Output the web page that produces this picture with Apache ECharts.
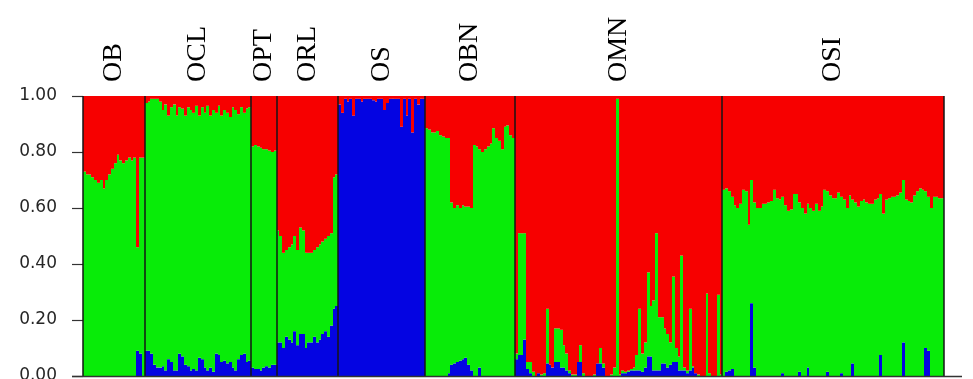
<!DOCTYPE html>
<html>
<head>
<meta charset="utf-8">
<script src="https://cdn.jsdelivr.net/npm/echarts@6/dist/echarts.min.js"></script>
<style>
  html, body { margin: 0; padding: 0; background: #fff; }
  #chart { width: 973px; height: 379px; }
</style>
</head>
<body>
<div id="chart"></div>
<script>
// Population names, in plot order
const populations = ['OB', 'OCL', 'OPT', 'ORL', 'OS', 'OBN', 'OMN', 'OSI'];

// Membership coefficients per individual (K = 3): blue cluster and green cluster.
// The red cluster takes the remainder of each bar.
const obBlue  = [0,0,0,0,0,0,0,0,0,0,0,0,0,0,0,0,0,0,0,0.09,0.08,0];
const obGreen = [0.73,0.72,0.72,0.71,0.70,0.69,0.70,0.67,0.70,0.72,0.74,0.76,0.79,0.77,0.76,0.77,0.78,0.77,0.78,0.37,0.70,0.78];

const oclBlue  = [0.09,0.09,0.08,0.04,0.03,0.03,0.035,0.02,0.06,0.05,0.02,0.02,0.08,0.07,0.04,0.035,0.02,0.025,0.02,0.065,0.06,0.03,0.02,0.03,0.015,0.08,0.075,0.05,0.055,0.045,0.05,0.03,0.02,0.06,0.075,0.08,0.05,0.055];
const oclGreen = [0.885,0.89,0.91,0.95,0.96,0.95,0.915,0.95,0.87,0.91,0.95,0.91,0.88,0.885,0.89,0.925,0.93,0.915,0.945,0.865,0.90,0.91,0.945,0.90,0.935,0.86,0.89,0.88,0.895,0.895,0.875,0.93,0.93,0.875,0.885,0.86,0.905,0.905];

const optBlue  = [0.03,0.025,0.025,0.02,0.03,0.035,0.03,0.04,0.04];
const optGreen = [0.79,0.80,0.795,0.795,0.78,0.775,0.775,0.76,0.765];

const orlBlue  = [0.12,0.12,0.10,0.14,0.13,0.12,0.16,0.11,0.15,0.15,0.10,0.12,0.12,0.14,0.12,0.13,0.15,0.16,0.14,0.18,0.24,0.25];
const orlGreen = [0.40,0.38,0.34,0.31,0.33,0.35,0.34,0.34,0.38,0.37,0.34,0.32,0.32,0.31,0.34,0.34,0.33,0.33,0.36,0.33,0.47,0.47];

const osBlue  = [0.97,0.94,0.99,0.98,0.99,0.93,0.99,0.99,0.98,0.99,0.99,0.99,0.985,0.98,0.99,0.99,0.95,0.975,0.99,0.99,0.99,0.99,0.89,0.99,0.93,0.99,0.87,0.99,0.97,0.99,0.99];
const osGreen = [0,0,0,0,0,0,0,0,0,0,0,0,0,0,0,0,0,0,0,0,0,0,0,0,0,0,0,0,0,0,0];

const obnBlue  = [0,0,0,0,0,0,0,0,0.01,0.04,0.045,0.05,0.055,0.06,0.065,0.04,0.02,0,0,0.03,0,0,0,0,0,0,0,0,0,0,0,0];
const obnGreen = [0.885,0.88,0.87,0.87,0.875,0.86,0.855,0.85,0.84,0.58,0.555,0.56,0.545,0.55,0.54,0.565,0.58,0.825,0.82,0.78,0.80,0.81,0.82,0.83,0.885,0.85,0.84,0.81,0.89,0.895,0.86,0.85];

const omnBlue  = [0.06,0.075,0.075,0.13,0.025,0.01,0,0,0.01,0,0,0.045,0.04,0.03,0.05,0.05,0.03,0.03,0.02,0.01,0,0,0.05,0.05,0,0,0,0,0,0.045,0.045,0.03,0,0,0,0,0,0,0.01,0.01,0.015,0.02,0.02,0.02,0.02,0.015,0.03,0.07,0.07,0.02,0.02,0.02,0.045,0.045,0.03,0.04,0.05,0.05,0.02,0.02,0.02,0.01,0.02,0.03,0.01,0,0,0,0,0,0,0,0,0];
const omnGreen = [0.02,0.435,0.435,0.38,0.025,0.04,0.015,0,0,0.005,0.01,0.195,0,0,0.12,0.12,0.135,0.08,0.06,0.01,0.005,0.005,0,0.06,0.01,0,0,0,0.005,0,0.055,0.015,0,0,0.005,0.03,0.99,0.005,0.01,0.005,0.005,0.005,0.01,0.055,0.22,0.065,0.09,0.30,0.18,0.25,0.49,0.19,0.165,0.125,0.12,0.08,0.305,0.05,0.05,0.41,0.01,0.01,0.22,0.005,0,0.005,0,0,0.295,0.01,0,0,0.29,0.005];

const osiBlue  = [0,0.015,0.02,0.025,0,0,0,0,0,0,0.26,0.03,0,0,0,0,0,0,0,0,0,0.01,0,0,0,0,0,0.015,0,0,0.03,0,0,0,0,0,0,0.015,0,0,0,0,0.01,0,0,0,0.045,0,0,0,0,0,0,0,0,0,0.075,0,0,0,0,0,0,0,0.12,0,0,0,0,0,0,0,0.10,0.09,0,0,0,0,0];
const osiGreen = [0.665,0.655,0.64,0.615,0.61,0.60,0.615,0.665,0.66,0.54,0.44,0.59,0.60,0.60,0.615,0.615,0.62,0.625,0.665,0.635,0.63,0.63,0.61,0.59,0.595,0.65,0.65,0.605,0.60,0.58,0.585,0.60,0.59,0.615,0.59,0.605,0.665,0.645,0.645,0.635,0.635,0.655,0.63,0.63,0.60,0.645,0.585,0.62,0.605,0.625,0.63,0.62,0.615,0.615,0.63,0.635,0.575,0.58,0.63,0.635,0.64,0.64,0.645,0.655,0.58,0.63,0.625,0.62,0.645,0.66,0.67,0.665,0.56,0.55,0.60,0.64,0.64,0.635,0.635];

const blueByPop  = [obBlue, oclBlue, optBlue, orlBlue, osBlue, obnBlue, omnBlue, osiBlue];
const greenByPop = [obGreen, oclGreen, optGreen, orlGreen, osGreen, obnGreen, omnGreen, osiGreen];

const COLORS = { red: '#f70000', green: '#08ec08', blue: '#0404e2' };

// One row per individual: [index, blue, green, red]
const individuals = [];
const memberships = [];
const popRanges = [];
populations.forEach((pop, p) => {
  const start = individuals.length;
  blueByPop[p].forEach((b, k) => {
    const g = greenByPop[p][k];
    const r = Math.max(0, +(1 - b - g).toFixed(3));
    memberships.push([individuals.length, b, g, r]);
    individuals.push(pop + '_' + (k + 1));
  });
  popRanges.push([start, individuals.length - 1]);
});

const chart = echarts.init(document.getElementById('chart'), null, { renderer: 'canvas' });

chart.setOption({
  animation: false,
  grid: { left: 83, right: 29, top: 96, bottom: 3, containLabel: false, outerBoundsMode: 'none' },
  xAxis: {
    type: 'category', data: individuals, show: false,
    boundaryGap: true
  },
  yAxis: {
    type: 'value', min: 0, max: 1, interval: 0.2,
    axisLine: { show: false },
    axisTick: { show: true, length: 11, lineStyle: { color: '#333', width: 1.2 } },
    axisLabel: {
      formatter: v => v.toFixed(2),
      margin: 26, color: '#262626', fontSize: 17, fontFamily: 'DejaVu Sans',
      verticalAlignMinLabel: 'middle', verticalAlignMaxLabel: 'middle'
    },
    splitLine: { show: false }
  },
  series: [
    {
      // stacked membership bars: blue at the bottom, then green, red on top
      type: 'custom',
      name: 'membership',
      silent: true,
      z: 2,
      encode: { x: 0, y: [1, 2, 3] },
      data: memberships,
      renderItem(params, api) {
        const i = api.value(0);
        const bw = api.size([1, 0])[0];
        const cx = api.coord([i, 0])[0];
        // snap bar edges to whole pixels so adjacent bars meet without seams
        const xa = Math.round(cx - bw / 2), xb = Math.round(cx + bw / 2);
        const parts = [[api.value(1), COLORS.blue], [api.value(2), COLORS.green], [api.value(3), COLORS.red]];
        let acc = 0;
        const children = [];
        parts.forEach(([v, c]) => {
          if (!(v > 0)) return;
          const y0 = api.coord([i, acc])[1];
          acc += v;
          const y1 = api.coord([i, Math.min(acc, 1)])[1];
          children.push({ type: 'rect', shape: { x: xa, y: y1, width: xb - xa, height: y0 - y1 },
            style: { fill: c } });
        });
        return { type: 'group', children };
      }
    },
    {
      type: 'custom',
      name: 'populations',
      clip: false,
      z: 5,
      silent: true,
      data: popRanges,
      renderItem(params, api) {
        const s = api.value(0), e = api.value(1);
        const bw = api.size([1, 0])[0];
        const xL = Math.round(api.coord([s, 0])[0] - bw / 2);
        const xR = Math.round(api.coord([e, 0])[0] + bw / 2);
        const yTop = api.coord([s, 1])[1];
        const yBot = api.coord([s, 0])[1];
        const sep = { stroke: '#141414', lineWidth: 1.5 };
        const children = [
          { type: 'line', shape: { x1: xL, y1: yTop, x2: xL, y2: yBot }, style: sep },
          {
            type: 'text', x: (xL + xR) / 2, y: yTop - 14, rotation: Math.PI / 2,
            style: {
              text: populations[params.dataIndex],
              font: '28px "Liberation Serif", "Times New Roman", serif',
              fill: '#000', align: 'left', verticalAlign: 'middle'
            }
          }
        ];
        if (params.dataIndex === populations.length - 1) {
          children.push({ type: 'line', shape: { x1: xR, y1: yTop, x2: xR, y2: yBot }, style: sep });
          // baseline under the bars
          const x0 = Math.round(api.coord([0, 0])[0] - bw / 2);
          children.push({ type: 'line', shape: { x1: x0 - 11, y1: yBot + 0.5, x2: xR + 18, y2: yBot + 0.5 },
            style: { stroke: '#333', lineWidth: 1.5 } });
        }
        return { type: 'group', children };
      }
    }
  ]
});
</script>
</body>
</html>
